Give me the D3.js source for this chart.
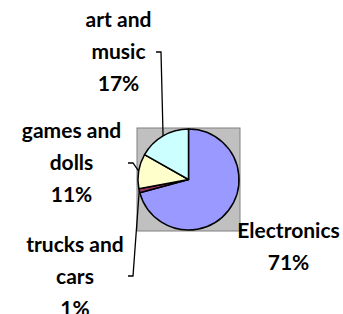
<!DOCTYPE html>
<html>
<head>
<meta charset="utf-8">
<script src="https://cdn.jsdelivr.net/npm/d3@7"></script>
<style>
  body { margin: 0; background: #fff; }
  text { font-family: Lato, "Liberation Sans", sans-serif; font-weight: bold; fill: #000; }
</style>
</head>
<body>
<div class="viz"></div>
<script>
// chart values (shares; labels show the rounded percentages)
const categories = ["Electronics", "trucks and cars", "games and dolls", "art and music"];
const values = [70.8, 1.3, 11.1, 16.8];
const labelLines = [["Electronics", "71%"], ["trucks and", "cars", "1%"], ["games and", "dolls", "11%"], ["art and", "music", "17%"]];
const colors = ["#9999FF", "#993366", "#FFFFCC", "#CCFFFF"];

const width = 343, height = 314;
const cx = 188.5, cy = 179.5, r = 50.5;
const lineGap = 32;

// label placement relative to the pie centre: [text centre dx, first baseline dy]
const labelPos = [[100, 58.5], [-113.5, 72.5], [-117, -41.5], [-70, -152.5]];
// elbow of leader line (null = no leader)
const elbows = [null, [[-60.5, 96.5], [-55.5, 96.5]], [[-60.5, -16.5], [-55.5, -16.5]], [[-32.5, -127.5], [-27.5, -127.5]]];

const svg = d3.select('.viz').append('svg')
    .attr('width', width)
    .attr('height', height);

// plot area box
svg.append('rect')
    .attr('x', cx - r - 1)
    .attr('y', cy - r - 1)
    .attr('width', 2 * r + 2)
    .attr('height', 2 * r + 2)
    .attr('fill', '#C0C0C0')
    .attr('stroke', '#808080')
    .attr('stroke-width', 1);

const data = categories.map((c, i) => ({cat: c, value: values[i], lines: labelLines[i], color: colors[i]}));

const pie = d3.pie().sort(null).value(d => d.value);
const arc = d3.arc().innerRadius(0).outerRadius(r);
const arcs = pie(data);

const g = svg.append('g').attr('transform', `translate(${cx},${cy})`);

g.selectAll('path').data(arcs).enter().append('path')
    .attr('d', arc)
    .attr('fill', d => d.data.color)
    .attr('stroke', '#000')
    .attr('stroke-width', 1.5)
    .attr('stroke-linejoin', 'round');

// leader lines
arcs.forEach((a, i) => {
    if (!elbows[i]) return;
    const mid = (a.startAngle + a.endAngle) / 2;
    const edge = [r * Math.sin(mid), -r * Math.cos(mid)];
    g.append('path')
        .attr('d', d3.line()([elbows[i][0], elbows[i][1], edge]))
        .attr('fill', 'none')
        .attr('stroke', '#000')
        .attr('stroke-width', 1.3);
});

// labels
arcs.forEach((a, i) => {
    const t = g.append('text')
        .attr('text-anchor', 'middle')
        .attr('font-size', 21);
    a.data.lines.forEach((ln, j) => {
        t.append('tspan')
            .attr('x', labelPos[i][0])
            .attr('y', labelPos[i][1] + j * lineGap)
            .text(ln);
    });
});
</script>
</body>
</html>
